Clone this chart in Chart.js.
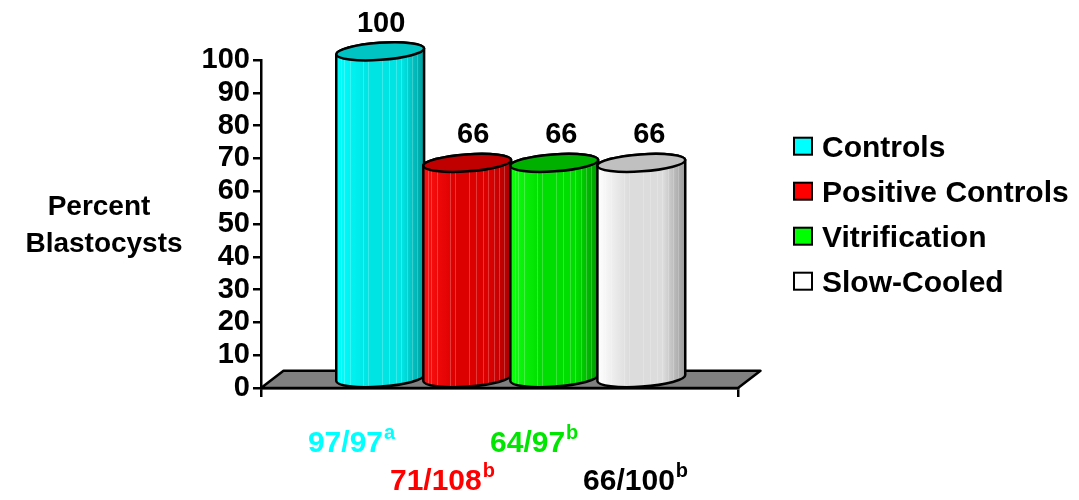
<!DOCTYPE html>
<html><head><meta charset="utf-8">
<script src="https://cdn.jsdelivr.net/npm/chart.js@4.4.0/dist/chart.umd.min.js"></script>
<style>html,body{margin:0;padding:0;background:#fff;}#wrap{width:1079px;height:500px;}</style>
</head><body><div id="wrap"><canvas id="c" width="1079" height="500"></canvas></div>
<script>
// ---- data ----
const categories = [''];
const seriesNames = ['Controls', 'Positive Controls', 'Vitrification', 'Slow-Cooled'];
const percentBlastocysts = [100, 66, 66, 66];
const fractionLabels = ['97/97', '71/108', '64/97', '66/100'];
const significanceLetters = ['a', 'b', 'b', 'b'];
const yTickValues = [0, 10, 20, 30, 40, 50, 60, 70, 80, 90, 100];
const yTitleLines = ['Percent', 'Blastocysts'];

// ---- styles ----
const FONT = '"Liberation Sans", Arial, Helvetica, sans-serif';
const legendColors = ['#00FFFF', '#FF0000', '#00FF00', '#FFFFFF'];
const bodyGradients = [
  ['#00FFFF', '#00E4E4', '#009C9C'],
  ['#FF1010', '#DD0000', '#A80000'],
  ['#10FF10', '#00DD00', '#009800'],
  ['#FFFFFF', '#DCDCDC', '#9A9A9A']
];
const topColors = ['#00C4C4', '#C00000', '#00B000', '#C0C0C0'];
const fractionColors = ['#00FFFF', '#FF0000', '#00E600', '#000000'];
const depth = { dx: 22.5, dy: 17.3 };
const valueLabelDx = [1, 6, 7, 8];
const fractionDx = [-61, -66, -53, -47];
const fractionRow = [0, 1, 0, 1];

const cylinderPlugin = {
  id: 'cylinders',
  beforeDatasetsDraw(chart) {
    const { ctx, chartArea: a } = chart;
    ctx.save();
    ctx.beginPath();
    ctx.moveTo(a.left, a.bottom);
    ctx.lineTo(a.right, a.bottom);
    ctx.lineTo(a.right + depth.dx, a.bottom - depth.dy);
    ctx.lineTo(a.left + depth.dx, a.bottom - depth.dy);
    ctx.closePath();
    ctx.fillStyle = '#808080';
    ctx.fill();
    ctx.lineWidth = 2.5;
    ctx.lineJoin = 'round';
    ctx.strokeStyle = '#000';
    ctx.stroke();
    ctx.restore();
  },
  afterDatasetsDraw(chart) {
    const { ctx, chartArea: a } = chart;
    const stripes = [0.05, 0.09, 0.16, 0.3, 0.36, 0.52, 0.6, 0.68, 0.74, 0.8, 0.86, 0.92];
    chart.data.datasets.forEach((ds, i) => {
      const el = chart.getDatasetMeta(i).data[0];
      const cx = el.x + depth.dx / 2;
      const rx = el.width / 2 + 0.5;
      const ry = 8.5;
      const rot = -0.07;
      const yt = el.y - depth.dy / 2;
      const yb = el.base - depth.dy / 2;
      ctx.save();
      const body = new Path2D();
      body.ellipse(cx, yb, rx, ry, rot, 0, Math.PI, false);
      body.ellipse(cx, yt, rx, ry, rot, Math.PI, 2 * Math.PI, false);
      body.closePath();
      const g = ctx.createLinearGradient(cx - rx, 0, cx + rx, 0);
      const gc = bodyGradients[i];
      g.addColorStop(0, gc[0]);
      g.addColorStop(0.35, gc[1]);
      g.addColorStop(0.75, gc[1]);
      g.addColorStop(1, gc[2]);
      ctx.fillStyle = g;
      ctx.fill(body);
      ctx.save();
      ctx.clip(body);
      ctx.strokeStyle = 'rgba(255,255,255,0.22)';
      ctx.lineWidth = 1;
      stripes.forEach(f => {
        const x = Math.round(cx - rx + f * 2 * rx) + 0.5;
        ctx.beginPath();
        ctx.moveTo(x, yt);
        ctx.lineTo(x, yb + ry);
        ctx.stroke();
      });
      ctx.restore();
      ctx.lineWidth = 2.5;
      ctx.strokeStyle = '#000';
      ctx.lineJoin = 'round';
      ctx.stroke(body);
      // top
      ctx.beginPath();
      ctx.ellipse(cx, yt, rx, ry, rot, 0, 2 * Math.PI);
      ctx.fillStyle = topColors[i];
      ctx.fill();
      ctx.stroke();
      // value label
      ctx.fillStyle = '#000';
      ctx.font = 'bold 29px ' + FONT;
      ctx.textAlign = 'center';
      ctx.textBaseline = 'alphabetic';
      ctx.fillText(String(ds.data[0]), cx + valueLabelDx[i], yt - 19.5);
      ctx.restore();
    });

    // fraction labels below axis
    ctx.save();
    ctx.textBaseline = 'alphabetic';
    ctx.textAlign = 'left';
    chart.data.datasets.forEach((ds, i) => {
      const el = chart.getDatasetMeta(i).data[0];
      const x = el.x + fractionDx[i];
      const y = a.bottom + (fractionRow[i] === 0 ? 64 : 102);
      ctx.fillStyle = fractionColors[i];
      ctx.font = 'bold 30px ' + FONT;
      ctx.fillText(fractionLabels[i], x, y);
      const w = ctx.measureText(fractionLabels[i]).width;
      ctx.font = 'bold 20px ' + FONT;
      ctx.fillText(significanceLetters[i], x + w + 1, y - 13);
    });
    ctx.restore();
  },
  afterDraw(chart) {
    const ctx = chart.ctx;
    ctx.save();
    // y title
    ctx.fillStyle = '#000';
    ctx.font = 'bold 28px ' + FONT;
    ctx.textAlign = 'center';
    ctx.textBaseline = 'alphabetic';
    ctx.fillText(yTitleLines[0], 99, 215);
    ctx.fillText(yTitleLines[1], 104, 252);
    // legend
    ctx.textAlign = 'left';
    ctx.font = 'bold 30px ' + FONT;
    chart.data.datasets.forEach((ds, i) => {
      const base = 156.7 + 45 * i;
      ctx.fillStyle = legendColors[i];
      ctx.fillRect(794, base - 19, 18, 17);
      ctx.lineWidth = 2;
      ctx.strokeStyle = '#000';
      ctx.strokeRect(794, base - 19, 18, 17);
      ctx.fillStyle = '#000';
      ctx.fillText(ds.label, 822, base);
    });
    ctx.restore();
  }
};

new Chart(document.getElementById('c'), {
  type: 'bar',
  data: {
    labels: categories,
    datasets: seriesNames.map((name, i) => ({
      label: name,
      data: [percentBlastocysts[i]],
      backgroundColor: 'rgba(0,0,0,0)',
      borderWidth: 0,
      categoryPercentage: 0.73,
      barPercentage: 1.0
    }))
  },
  options: {
    responsive: false,
    animation: false,
    devicePixelRatio: 1,
    layout: { padding: { left: 161, right: 341, top: 60, bottom: 92 } },
    plugins: { legend: { display: false }, tooltip: { enabled: false } },
    scales: {
      x: {
        type: 'category',
        offset: true,
        grid: { display: true, drawOnChartArea: false, drawTicks: true, tickLength: 9, color: '#000', lineWidth: 2.5, offset: true },
        ticks: { display: false },
        border: { display: true, color: '#000', width: 2.5 },
        afterFit: s => { s.height = 20; }
      },
      y: {
        min: 0,
        max: 100,
        afterBuildTicks: s => { s.ticks = yTickValues.map(v => ({ value: v })); },
        ticks: { color: '#000', padding: 3, autoSkip: false, font: { family: FONT, size: 29, weight: 'bold' } },
        grid: { display: true, drawOnChartArea: false, drawTicks: true, tickLength: 8, color: '#000', lineWidth: 2.5 },
        border: { display: true, color: '#000', width: 2.5 },
        afterFit: s => { s.width = 100; }
      }
    }
  },
  plugins: [cylinderPlugin]
});
</script>
</body></html>
